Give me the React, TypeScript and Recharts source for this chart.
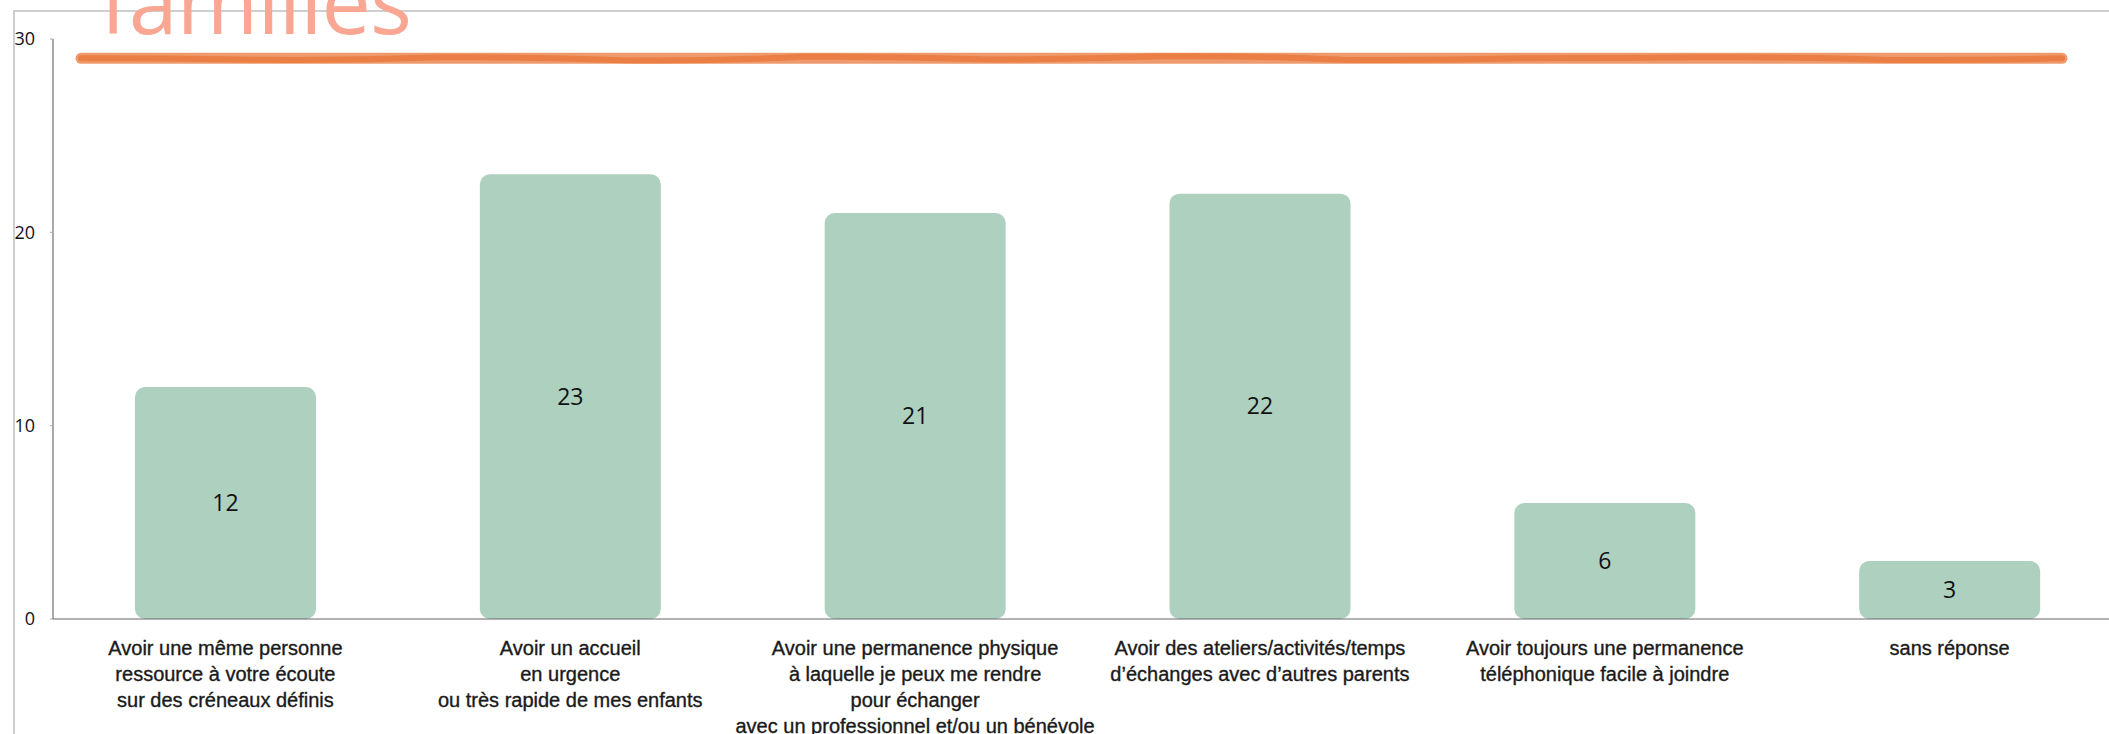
import { BarChart, Bar, XAxis, YAxis, LabelList, ReferenceLine } from "recharts";

const categories = [
  "Avoir une même personne\nressource à votre écoute\nsur des créneaux définis",
  "Avoir un accueil\nen urgence\nou très rapide de mes enfants",
  "Avoir une permanence physique\nà laquelle je peux me rendre\npour échanger\navec un professionnel et/ou un bénévole",
  "Avoir des ateliers/activités/temps\nd’échanges avec d’autres parents",
  "Avoir toujours une permanence\ntéléphonique facile à joindre",
  "sans réponse",
];
const responses = [12, 23, 21, 22, 6, 3];
const yTicks = [0, 10, 20, 30];
const targetLevel = 29;
const titleText = "familles";

const data = categories.map((name, i) => ({ name, value: responses[i] }));

const BAR_COLOR = "#aed0bf";
const NUM_FONT = "'Open Sans', sans-serif";
const LABEL_FONT = "'Liberation Sans', Arial, sans-serif";

function CategoryTick({ x, y, payload }: { x?: number; y?: number; payload?: { value: string } }) {
  const lines = String(payload?.value ?? "").split("\n");
  return (
    <text
      x={x}
      y={(y ?? 0) + 36}
      textAnchor="middle"
      fontFamily={LABEL_FONT}
      fontSize={20}
      fill="#1a1a1a"
      stroke="#1a1a1a"
      strokeWidth={0.35}
    >
      {lines.map((line, i) => (
        <tspan key={i} x={x} dy={i === 0 ? 0 : 26}>
          {line}
        </tspan>
      ))}
    </text>
  );
}

// hand-drawn looking marker stroke
function MarkerLine(props: { x1?: number; x2?: number; y1?: number }) {
  const x1 = (props.x1 ?? 0) + 28;
  const x2 = (props.x2 ?? 0) - 60;
  const y = props.y1 ?? 0;
  const wobble = [0, 1.5, -1, 2, -1.5, 1, -2, 1.5, 0, -1, 1.5, 0];
  const step = (x2 - x1) / (wobble.length - 1);
  let d = `M ${x1} ${y + wobble[0]}`;
  for (let i = 1; i < wobble.length; i++) {
    const cx = x1 + (i - 0.5) * step;
    d += ` Q ${cx} ${y + wobble[i - 1] * 1.5} ${x1 + i * step} ${y + wobble[i]}`;
  }
  return (
    <g>
      <path d={`M ${x1} ${y} L ${x2} ${y}`} stroke="#ee9a6c" strokeWidth={11} strokeLinecap="round" fill="none" />
      <path d={d} stroke="#ea7b41" strokeWidth={6} strokeLinecap="round" fill="none" opacity={0.9} />
    </g>
  );
}

export default function App() {
  return (
    <div
      style={{
        position: "absolute",
        left: 0,
        top: 0,
        width: 2109,
        height: 734,
        overflow: "hidden",
        background: "#fff",
      }}
    >
      <div
        style={{
          position: "absolute",
          left: 13,
          top: 10,
          width: 2200,
          height: 800,
          borderLeft: "2px solid #cfcfcf",
          borderTop: "2px solid #cfcfcf",
        }}
      />
      <svg style={{ position: "absolute", left: 0, top: 0 }} width={600} height={60}>
        <text x={100} y={34} fontFamily={NUM_FONT} fontSize={88} fill="#f9a693" textLength={312}>
          {titleText}
        </text>
      </svg>
      <div style={{ position: "absolute", left: 0, top: 0 }}>
        <BarChart
          width={2122}
          height={734}
          data={data}
          margin={{ top: 39, right: 0, bottom: 0, left: 0 }}
        >
          <YAxis
            domain={[0, 30]}
            ticks={yTicks}
            width={53}
            axisLine={{ stroke: "#555" }}
            tickLine={{ stroke: "#aaa" }}
            tickSize={3}
            tickMargin={15}
            tick={{ fontSize: 18, fill: "#111", fontFamily: NUM_FONT, fontWeight: 500 }}
          />
          <XAxis
            dataKey="name"
            height={115}
            axisLine={{ stroke: "#666" }}
            tickLine={false}
            tickSize={0}
            tickMargin={0}
            interval={0}
            tick={<CategoryTick />}
          />
          <ReferenceLine y={targetLevel} shape={<MarkerLine />} />
          <Bar dataKey="value" fill={BAR_COLOR} barSize={181} radius={10} isAnimationActive={false}>
            <LabelList
              dataKey="value"
              position="center"
              style={{ fontSize: 23, fill: "#111", fontFamily: NUM_FONT, fontWeight: 500 }}
            />
          </Bar>
        </BarChart>
      </div>
    </div>
  );
}
